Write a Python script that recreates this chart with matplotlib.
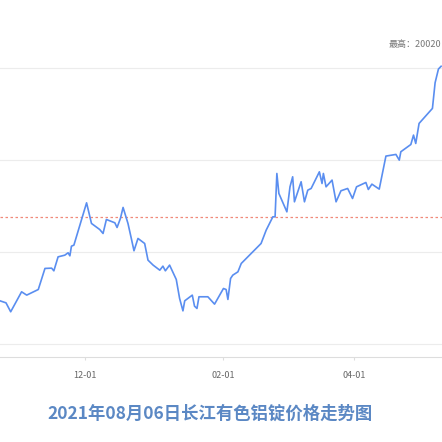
import matplotlib
matplotlib.use("Agg")
import matplotlib.pyplot as plt
import numpy as np

plt.rcParams['font.family'] = ['Noto Sans CJK SC', 'DejaVu Sans']

# days relative to 12-01
days = [-38.1,-35.4,-33.3,-28.4,-26.1,-20.9,-17.9,-14.9,-13.9,-12.0,-9.0,-7.5,-6.7,-6.0,-4.9,0.8,3.0,6.7,8.2,9.7,
        13.5,14.5,16.0,17.2,19.4,20.9,22.1,23.9,26.9,28.4,30.7,33.7,35.1,36.2,38.1,41.1,42.6,44.1,44.9,48.3,
        49.3,50.4,51.3,55.3,58.3,62.3,63.5,64.3,65.5,66.5,68.8,70.3,79.2,81.5,84.5,85.5,86.3,87.2,90.8,92.2,
        93.4,94.2,97.2,98.7,100.2,101.7,105.4,106.6,107.2,108.4,111.1,112.9,115.1,118.1,120.3,122.1,126.3,127.4,129.0,132.3,
        135.3,139.8,141.3,142.0,146.5,147.7,148.7,150.2,156.2,157.4,158.9,160.1]
prices = [17471,17449,17352,17569,17533,17594,17823,17826,17797,17949,17967,17993,17960,18065,18076,18536,18312,18246,18203,18355,
          18319,18268,18366,18486,18312,18149,18015,18149,18094,17913,17859,17804,17848,17797,17859,17703,17497,17362,17471,17533,
          17413,17388,17515,17515,17435,17605,17594,17486,17714,17750,17786,17877,18094,18239,18384,18384,18855,18638,18438,18710,
          18819,18547,18765,18547,18674,18692,18873,18746,18855,18710,18783,18547,18667,18692,18583,18710,18757,18681,18739,18685,
          19044,19062,19000,19091,19170,19272,19181,19399,19562,19841,19990,20020]
tick_pos = [0, 62, 121]
tick_labels = ['12-01', '02-01', '04-01']
grid_vals = [17000, 18000, 19000, 20000]
avg_price = 18380
max_price = 20020

fig = plt.figure(figsize=(4.42, 4.42), dpi=100)
ax = fig.add_axes([0, 0.192, 1, 0.672])
ax.plot(days, prices, color='#5a8ef0', lw=1.2, zorder=3)
ax.axhline(avg_price, color='#f08a7a', lw=0.9, ls=(0, (2, 2)), zorder=2)
for g in grid_vals:
    ax.axhline(g, color='#ececec', lw=0.8, zorder=1)
ax.set_xlim(-38.1, 160.5)
ax.set_ylim(16859, 20087)
ax.set_yticks([])
ax.set_xticks(tick_pos)
ax.set_xticklabels(tick_labels, fontsize=6.5, color='#666666')
ax.tick_params(axis='x', length=2, color='#dddddd', pad=8)
for s in ['top', 'left', 'right']:
    ax.spines[s].set_visible(False)
ax.spines['bottom'].set_color('#dddddd')
fig.text(0.998, 0.90, f'最高：{max_price}', ha='right', va='center', fontsize=6.5, color='#777777')
fig.text(0.475, 0.065, '2021年08月06日长江有色铝锭价格走势图', ha='center', va='center',
         fontsize=12.5, fontweight='bold', color='#5b88c4')
fig.savefig('out.png', dpi=100)
